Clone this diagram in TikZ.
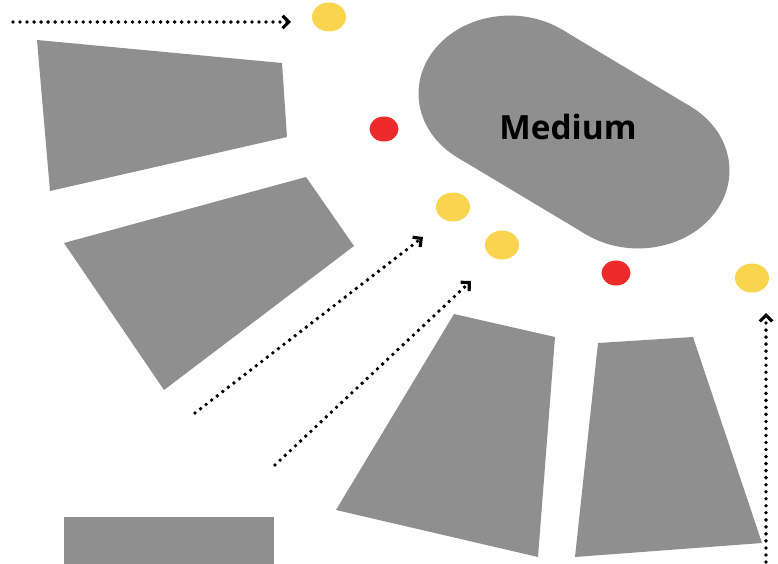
\documentclass[tikz,border=0pt]{standalone}
\usepackage{fontspec}
\setsansfont{Open Sans}
\usetikzlibrary{arrows.meta, shapes.geometric, positioning}

\definecolor{slabgray}{RGB}{143,143,143}
\definecolor{dotyellow}{RGB}{249,212,78}
\definecolor{dotred}{RGB}{238,42,42}

\begin{document}
\begin{tikzpicture}[x=0.02cm, y=-0.02cm,
    slab/.style={fill=slabgray},
    ydot/.style={ellipse, fill=dotyellow, inner sep=0pt, minimum width=0.68cm, minimum height=0.58cm},
    rdot/.style={ellipse, fill=dotred, inner sep=0pt, minimum width=0.58cm, minimum height=0.5cm},
    flow/.style={line width=2.2pt, dash pattern=on 0pt off 4pt, line cap=round,
        -{Straight Barb[length=3.5pt, width=7pt, line width=1.8pt]}}]
    \clip (0,0) rectangle (778,564);

    % Draw the grey blocks round the medium
    \fill[slab] (37,40) -- (282,63) -- (287,137) -- (50,191) -- cycle;
    \fill[slab] (64,243) -- (306,177) -- (354,246) -- (164,390) -- cycle;
    \fill[slab] (454,314) -- (555,337) -- (538,557) -- (336,510) -- cycle;
    \fill[slab] (598,343) -- (693,337) -- (762,543) -- (575,557) -- cycle;
    \fill[slab] (64,517) rectangle (274,570);

    % Draw the medium as a tilted capsule
    \begin{scope}[shift={(574,132)}, xscale=1.17, rotate=-35]
        \fill[slab] (-67,-78) rectangle (67,78);
        \fill[slab] (-67,0) circle[radius=78];
        \fill[slab] (67,0) circle[radius=78];
    \end{scope}
    \node[font=\sffamily\bfseries\fontsize{19}{22}\selectfont] (medium) at (568,127) {Medium};

    % Draw particles
    \node[ydot] (y1) at (329,17) {};
    \node[rdot] (r1) at (384,129) {};
    \node[ydot] (y2) at (453,207) {};
    \node[ydot] (y3) at (502,245) {};
    \node[rdot] (r2) at (616,273) {};
    \node[ydot] (y4) at (752,278) {};

    % Draw incoming paths
    \coordinate (a1) at (13,22);
    \coordinate (b1) at (291,22);
    \coordinate (a2) at (195,413);
    \coordinate (b2) at (423,237);
    \coordinate (a3) at (275,465);
    \coordinate (b3) at (471,281);
    \coordinate (a4) at (766,562);
    \coordinate (b4) at (766,313);
    \draw[flow] (a1) -- (b1);
    \draw[flow] (a2) -- (b2);
    \draw[flow] (a3) -- (b3);
    \draw[flow] (a4) -- (b4);
\end{tikzpicture}
\end{document}
